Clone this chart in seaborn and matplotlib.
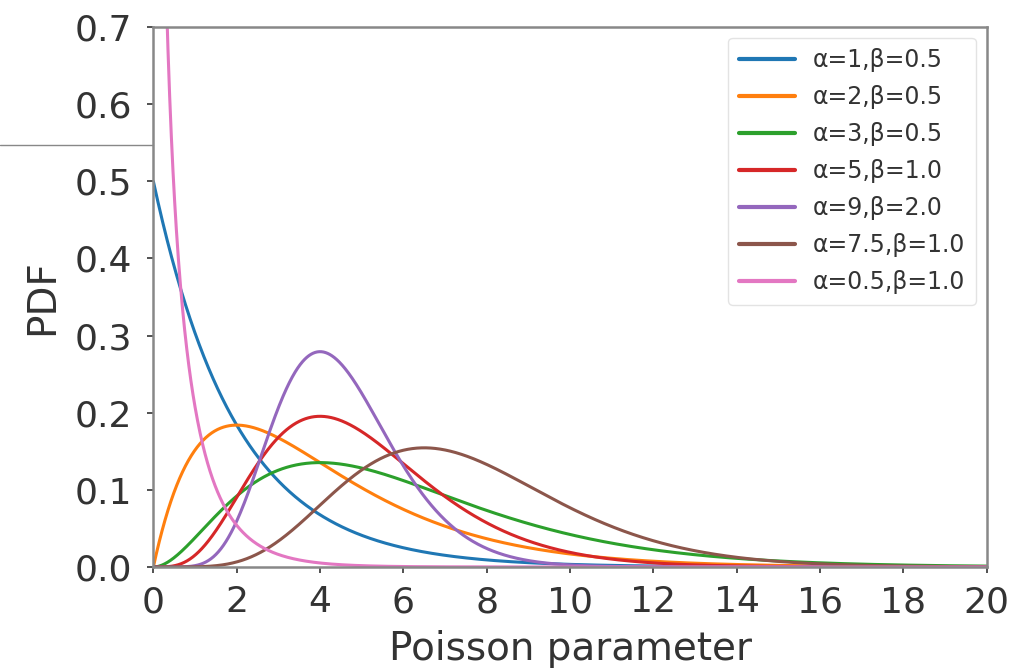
import math
import numpy as np
import pandas as pd
import matplotlib
matplotlib.use("Agg")
import matplotlib.pyplot as plt
from matplotlib.lines import Line2D
import seaborn as sns

# shape / rate parameters
alphas = [1, 2, 3, 5, 9, 7.5, 0.5]
betas = [0.5, 0.5, 0.5, 1.0, 2.0, 1.0, 1.0]
labels = ["α=1,β=0.5", "α=2,β=0.5", "α=3,β=0.5", "α=5,β=1.0",
          "α=9,β=2.0", "α=7.5,β=1.0", "α=0.5,β=1.0"]
x_ticks = list(range(0, 21, 2))
y_ticks = [0.0, 0.1, 0.2, 0.3, 0.4, 0.5, 0.6, 0.7]


def gamma_pdf(x, a, b):
    return b ** a * x ** (a - 1) * np.exp(-b * x) / math.gamma(a)


xs = np.linspace(0.0005, 20, 2000)
frames = []
for a, b, lab in zip(alphas, betas, labels):
    frames.append(pd.DataFrame({"x": xs, "pdf": gamma_pdf(xs, a, b), "label": lab}))
df = pd.concat(frames, ignore_index=True)

sns.set_style("white")
plt.rcParams["font.family"] = ["DejaVu Sans"]

fig = plt.figure(figsize=(10.09, 6.69), dpi=100)
ax = fig.add_axes([0.152, 0.1525, 0.826, 0.807])

palette = sns.color_palette("tab10", len(labels))
sns.lineplot(data=df, x="x", y="pdf", hue="label", hue_order=labels,
             palette=palette, linewidth=2.2, ax=ax, sort=False)

ax.set_xlim(0, 20)
ax.set_ylim(0, 0.7)
ax.set_xticks(x_ticks)
ax.set_yticks(y_ticks)
ax.set_yticklabels([f"{v:.1f}" for v in y_ticks])
ax.tick_params(axis="both", labelsize=26, colors="#333333", length=4, width=1.2,
               direction="out", bottom=True, left=True)
ax.tick_params(axis="x", pad=9)
ax.tick_params(axis="y", pad=11)
ax.set_xlabel("Poisson parameter", fontsize=28, color="#333333", labelpad=8)
ax.set_ylabel("PDF", fontsize=28, color="#333333", labelpad=10)

for s in ax.spines.values():
    s.set_visible(True)
    s.set_color("#888888")
    s.set_linewidth(1.8)

handles = [Line2D([0], [0], color=c, lw=3) for c in palette]
ax.legend(handles, labels, loc="upper right", fontsize=17, handlelength=2.4,
          handletextpad=0.75, labelspacing=0.55, frameon=True, edgecolor="#dddddd",
          borderaxespad=0.45, borderpad=0.45, labelcolor="#333333")

# stray rule at the left of the page
fig.add_artist(Line2D([0, 0.152], [1 - 145 / 669, 1 - 145 / 669],
                      color="#888888", lw=1, transform=fig.transFigure))

fig.savefig("out.png", dpi=100)
